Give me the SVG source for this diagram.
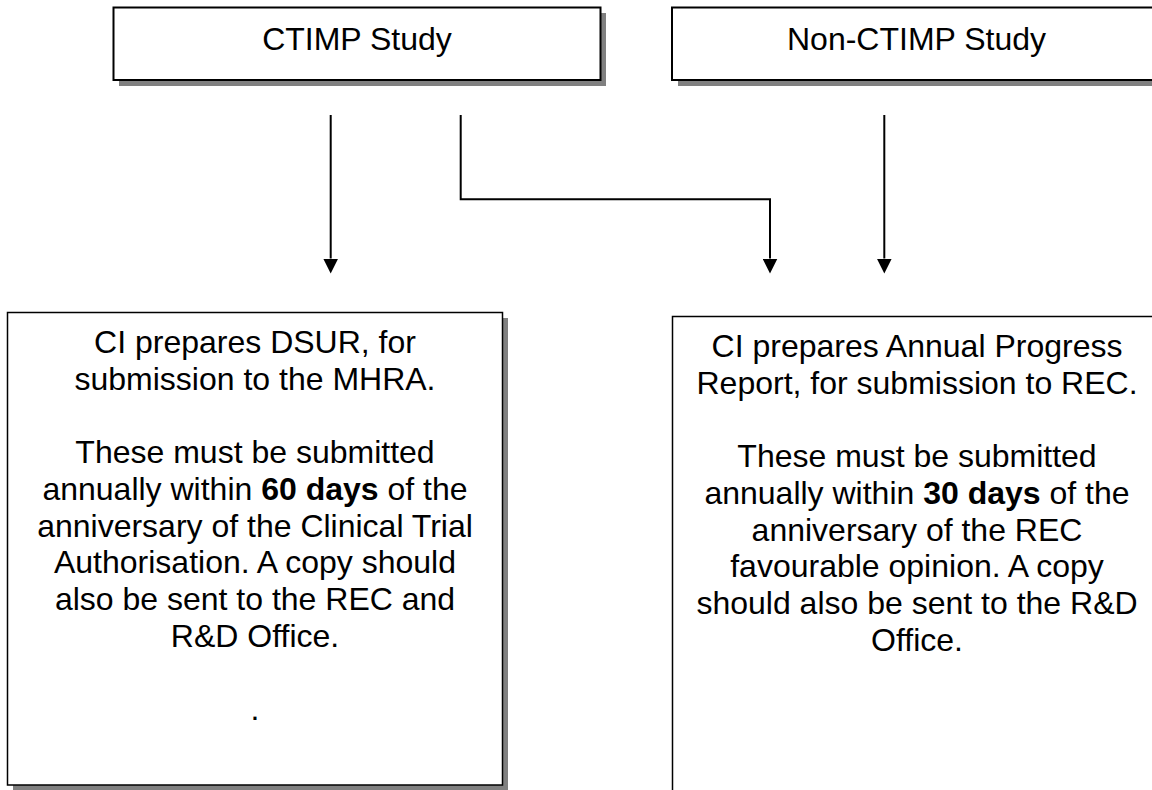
<svg xmlns="http://www.w3.org/2000/svg" width="1152" height="790" viewBox="0 0 1152 790">
<style>
  .shadow { fill: #808080; stroke: none; }
  .box { fill: #ffffff; stroke: #000000; }
  .top { stroke-width: 2; }
  .bot { stroke-width: 1.5; }
  text { font-family: "Liberation Sans", Arial, sans-serif; font-size: 32px; fill: #000000; text-anchor: middle; }
  .b { font-weight: bold; }
  .conn { fill: none; stroke: #000000; stroke-width: 2; }
</style>
<defs>
  <marker id="arrow" viewBox="0 0 15 15" markerWidth="15" markerHeight="15" markerUnits="userSpaceOnUse" refX="0" refY="7.5" orient="auto">
    <path d="M0,0 L15,7.5 L0,15 z" fill="#000000"/>
  </marker>
</defs>
<rect x="0" y="0" width="1152" height="790" fill="#ffffff"/>

<g id="ctimp">
  <rect class="shadow" x="119" y="13" width="487" height="73"/>
  <rect class="box top" x="113.5" y="7.5" width="487" height="72.5"/>
  <text x="357" y="50">CTIMP Study</text>
</g>

<g id="non-ctimp">
  <rect class="shadow" x="678" y="13" width="489" height="73"/>
  <rect class="box top" x="672" y="7.5" width="489" height="72.5"/>
  <text x="916.5" y="50">Non-CTIMP Study</text>
</g>

<g id="dsur">
  <rect class="shadow" x="13" y="318" width="495" height="473"/>
  <rect class="box bot" x="7.5" y="312.5" width="495" height="472.5"/>
  <text x="255" y="353">CI prepares DSUR, for</text>
  <text x="255" y="390">submission to the MHRA.</text>
  <text x="255" y="463">These must be submitted</text>
  <text x="255" y="500">annually within <tspan class="b">60 days</tspan> of the</text>
  <text x="255" y="537">anniversary of the Clinical Trial</text>
  <text x="255" y="573">Authorisation. A copy should</text>
  <text x="255" y="610">also be sent to the REC and</text>
  <text x="255" y="647">R&amp;D Office.</text>
  <text x="255" y="720">.</text>
</g>

<g id="apr">
  <rect class="shadow" x="678" y="322" width="489" height="480"/>
  <rect class="box bot" x="672.5" y="316.5" width="489" height="480"/>
  <text x="917" y="357">CI prepares Annual Progress</text>
  <text x="917" y="394">Report, for submission to REC.</text>
  <text x="917" y="467">These must be submitted</text>
  <text x="917" y="504">annually within <tspan class="b">30 days</tspan> of the</text>
  <text x="917" y="541">anniversary of the REC</text>
  <text x="917" y="577">favourable opinion. A copy</text>
  <text x="917" y="614">should also be sent to the R&amp;D</text>
  <text x="917" y="651">Office.</text>
</g>

<g id="connectors">
  <path class="conn" d="M330.7,115 V258.5" marker-end="url(#arrow)"/>
  <path class="conn" d="M460.7,115 V199.3 H770 V258.5" marker-end="url(#arrow)"/>
  <path class="conn" d="M884.3,115 V258.5" marker-end="url(#arrow)"/>
</g>
</svg>
